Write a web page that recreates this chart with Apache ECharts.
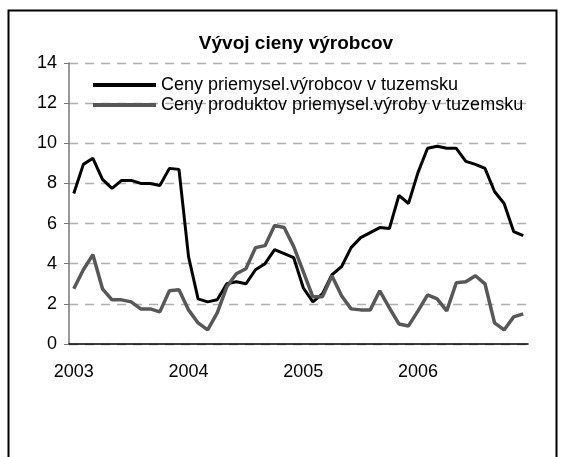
<!DOCTYPE html>
<html>
<head>
<meta charset="utf-8">
<script src="https://cdn.jsdelivr.net/npm/echarts@6/dist/echarts.min.js"></script>
<style>
  html, body { margin: 0; padding: 0; background: #fff; }
  #container { width: 566px; height: 457px; }
</style>
</head>
<body>
<div id="container"></div>
<script>
const years = ['2003', '2004', '2005', '2006'];

// monthly, Jan 2003 .. Dec 2006
const producerPrices = [
    7.5, 8.95, 9.25, 8.2, 7.75, 8.15, 8.15, 8.0, 8.0, 7.9, 8.75, 8.7,
    4.35, 2.25, 2.1, 2.2, 3.0, 3.1, 3.0, 3.7, 4.0, 4.7, 4.5, 4.3,
    2.8, 2.1, 2.5, 3.45, 3.85, 4.8, 5.3, 5.55, 5.8, 5.75, 7.4, 7.0,
    8.55, 9.75, 9.85, 9.75, 9.75, 9.1, 8.95, 8.75, 7.6, 7.0, 5.6, 5.4
];
const productPrices = [
    2.75, 3.7, 4.45, 2.75, 2.2, 2.2, 2.1, 1.75, 1.75, 1.6, 2.65, 2.7,
    1.7, 1.05, 0.7, 1.55, 2.85, 3.5, 3.75, 4.8, 4.9, 5.9, 5.8, 4.85,
    3.6, 2.35, 2.35, 3.4, 2.4, 1.75, 1.7, 1.7, 2.65, 1.8, 1.0, 0.9,
    1.65, 2.45, 2.25, 1.65, 3.05, 3.1, 3.4, 3.0, 1.05, 0.7, 1.35, 1.5
];

const seriesNames = [
    'Ceny priemysel.výrobcov v tuzemsku',
    'Ceny produktov priemysel.výroby v tuzemsku'
];

const months = [];
years.forEach(y => {
    for (let m = 1; m <= 12; m++) months.push(y + '-' + (m < 10 ? '0' + m : m));
});

const font = 'Liberation Sans, Arial, sans-serif';

const myChart = echarts.init(document.getElementById('container'));

const option = {
    backgroundColor: '#fff',
    animation: false,
    title: {
        text: 'Vývoj cieny výrobcov',
        left: 291,
        textAlign: 'center',
        top: 29,
        textStyle: { fontFamily: font, fontSize: 19, fontWeight: 'bold', color: '#000' }
    },
    legend: {
        orient: 'vertical',
        left: 88,
        top: 71,
        itemWidth: 63,
        itemHeight: 4,
        itemGap: 2,
        icon: 'rect',
        textStyle: { fontFamily: font, fontSize: 18, color: '#000' },
        data: seriesNames
    },
    graphic: [{
        type: 'rect',
        shape: { x: 8.5, y: 10.5, width: 548, height: 470 },
        style: { fill: 'none', stroke: '#000', lineWidth: 2 },
        silent: true
    }],
    grid: { left: 69, right: 38, top: 63, bottom: 113 },
    xAxis: {
        type: 'category',
        data: months,
        boundaryGap: true,
        axisLine: { lineStyle: { color: '#000', width: 1.5 } },
        axisTick: { interval: 11, length: 5, lineStyle: { color: '#000' } },
        axisLabel: {
            interval: 11,
            margin: 19,
            fontFamily: font,
            fontSize: 18,
            color: '#000',
            formatter: v => v.slice(0, 4)
        },
        splitLine: { show: false }
    },
    yAxis: {
        type: 'value',
        min: 0,
        max: 14,
        interval: 2,
        axisLine: { show: true, lineStyle: { color: '#777', width: 1.5 } },
        axisTick: { show: true, length: 5, lineStyle: { color: '#777' } },
        axisLabel: { margin: 12, fontFamily: font, fontSize: 18, color: '#000' },
        splitLine: { lineStyle: { color: '#b0b0b0', type: [9, 7], width: 1.3 } }
    },
    series: [
        {
            name: seriesNames[0],
            type: 'line',
            data: producerPrices,
            symbol: 'none',
            color: '#000',
            lineStyle: { color: '#000', width: 3 }
        },
        {
            name: seriesNames[1],
            type: 'line',
            data: productPrices,
            symbol: 'none',
            color: '#585858',
            lineStyle: { color: '#585858', width: 3.5 }
        }
    ]
};

myChart.setOption(option);
</script>
</body>
</html>
